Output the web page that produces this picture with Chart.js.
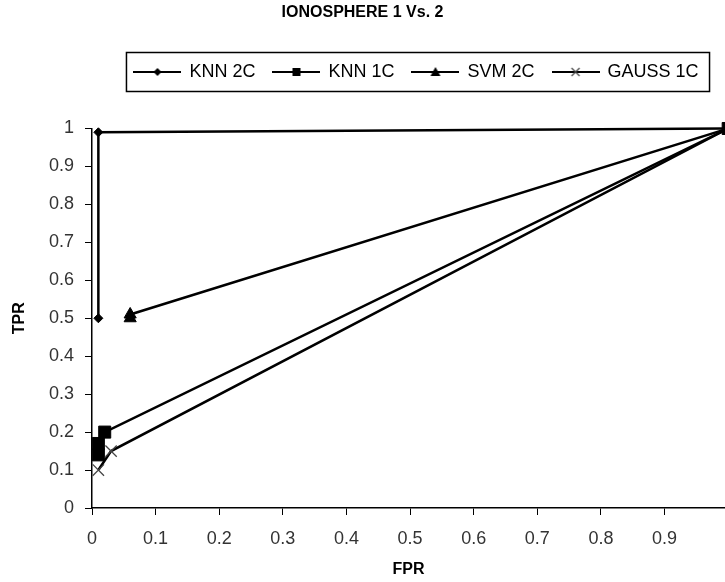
<!DOCTYPE html>
<html>
<head>
<meta charset="utf-8">
<style>
  html, body { margin: 0; padding: 0; background: #fff; overflow: hidden; }
  #wrap { width: 725px; height: 582px; }
</style>
<script src="https://cdn.jsdelivr.net/npm/chart.js@4.4.1/dist/chart.umd.min.js"></script>
</head>
<body>
<div id="wrap"><canvas id="roc"></canvas></div>
<script>
const chartTitle = 'IONOSPHERE 1 Vs. 2';
const seriesNames = ['KNN 2C', 'KNN 1C', 'SVM 2C', 'GAUSS 1C'];

// FPR / TPR pairs
const knn2cFpr = [0.01, 0.01, 1];
const knn2cTpr = [0.5, 0.99, 1];
const knn1cFpr = [0.01, 0.01, 0.02, 1];
const knn1cTpr = [0.14, 0.17, 0.2, 1];
const svm2cFpr = [0.06, 0.06, 1];
const svm2cTpr = [0.5, 0.51, 1];
const gauss1cFpr = [0.01, 0.03, 1];
const gauss1cTpr = [0.1, 0.15, 1];

const xTicks = [0, 0.1, 0.2, 0.3, 0.4, 0.5, 0.6, 0.7, 0.8, 0.9];
const yTicks = [0, 0.1, 0.2, 0.3, 0.4, 0.5, 0.6, 0.7, 0.8, 0.9, 1];

const FONT = "'Liberation Sans', Arial, sans-serif";

function pts(xs, ys) {
  return xs.map((x, i) => ({ x: x, y: ys[i] }));
}

// little line+marker picture for each legend entry
function legendIcon(kind) {
  const c = document.createElement('canvas');
  c.width = 48; c.height = 16;
  const g = c.getContext('2d');
  g.strokeStyle = '#000';
  g.fillStyle = '#000';
  g.lineWidth = 2;
  g.beginPath(); g.moveTo(0, 8); g.lineTo(48, 8); g.stroke();
  g.beginPath();
  if (kind === 'diamond') {
    g.moveTo(24, 4); g.lineTo(28, 8); g.lineTo(24, 12); g.lineTo(20, 8); g.closePath(); g.fill();
  } else if (kind === 'square') {
    g.fillRect(20, 4, 8, 8);
  } else if (kind === 'triangle') {
    g.moveTo(24, 3); g.lineTo(29, 12); g.lineTo(19, 12); g.closePath(); g.fill();
  } else {
    g.strokeStyle = '#444'; g.lineWidth = 1.2;
    g.moveTo(20, 4); g.lineTo(28, 12); g.moveTo(28, 4); g.lineTo(20, 12); g.stroke();
  }
  return c;
}
const legendIcons = [legendIcon('diamond'), legendIcon('square'), legendIcon('triangle'), legendIcon('cross')];

function series(label, data, style, radius, markColor) {
  return {
    label: label,
    data: data,
    showLine: true,
    borderColor: '#000',
    borderWidth: 2.5,
    pointStyle: style,
    pointRadius: radius,
    pointHoverRadius: radius,
    pointBackgroundColor: '#000',
    pointBorderColor: markColor,
    pointBorderWidth: style === 'crossRot' ? 1.3 : 1,
    clip: false
  };
}

// push the plot area down below the legend, nudge the legend row right
const legendGap = {
  id: 'legendGap',
  beforeLayout(chart) {
    const lg = chart.legend;
    if (lg && !lg._gapPatched) {
      const fit = lg.fit;
      lg.fit = function () { fit.call(this); this.height += 37.5; };
      lg._gapPatched = true;
    }
  },
  afterLayout(chart) {
    const lg = chart.legend;
    if (lg) { lg.left += 8; lg.right += 8; }
  }
};

// frame round the legend like the original
const legendFrame = {
  id: 'legendFrame',
  afterDraw(chart) {
    const boxes = chart.legend && chart.legend.legendHitBoxes;
    if (!boxes || !boxes.length) return;
    const a = boxes[0], b = boxes[boxes.length - 1];
    const ctx = chart.ctx;
    const left = a.left - 8, right = b.left + b.width + 11;
    ctx.save();
    ctx.strokeStyle = '#000';
    ctx.lineWidth = 1.5;
    ctx.strokeRect(left, a.top - 10.5, right - left, a.height + 21);
    ctx.restore();
  }
};

new Chart(document.getElementById('roc'), {
  type: 'scatter',
  data: {
    datasets: [
      series(seriesNames[0], pts(knn2cFpr, knn2cTpr), 'rectRot', 4.5, '#000'),
      series(seriesNames[1], pts(knn1cFpr, knn1cTpr), 'rect', 8.5, '#000'),
      series(seriesNames[2], pts(svm2cFpr, svm2cTpr), 'triangle', 7, '#000'),
      series(seriesNames[3], pts(gauss1cFpr, gauss1cTpr), 'crossRot', 8, '#444')
    ]
  },
  options: {
    responsive: true,
    maintainAspectRatio: false,
    animation: false,
    layout: { padding: 0, autoPadding: false },
    plugins: {
      title: {
        display: true,
        text: chartTitle,
        color: '#000',
        font: { family: FONT, size: 16, weight: 'bold' },
        padding: { top: 3, bottom: 22.8 }
      },
      legend: {
        display: true,
        position: 'top',
        fullSize: false,
        labels: {
          usePointStyle: true,
          pointStyleWidth: 46,
          padding: 18,
          color: '#000',
          font: { family: FONT, size: 18 },
          generateLabels(chart) {
            const items = Chart.defaults.plugins.legend.labels.generateLabels(chart);
            items.forEach((it, i) => { it.pointStyle = legendIcons[i]; });
            return items;
          }
        }
      },
      tooltip: { enabled: false }
    },
    scales: {
      x: {
        type: 'linear',
        min: 0,
        max: 0.995,
        afterBuildTicks: s => { s.ticks = xTicks.map(v => ({ value: v })); },
        afterFit: s => { s.height = 74; s.paddingRight = 0; s.paddingLeft = 0; },
        grid: { drawOnChartArea: false, drawTicks: true, tickLength: 7, tickColor: '#000' },
        border: { color: '#000', width: 1.5 },
        ticks: { color: '#333', padding: 13, font: { family: FONT, size: 18 }, callback: v => String(+v.toFixed(1)) },
        title: { display: true, text: 'FPR', color: '#000', font: { family: FONT, size: 16, weight: 'bold' }, padding: { top: 0, bottom: 2.4 } }
      },
      y: {
        type: 'linear',
        min: 0,
        max: 1,
        afterBuildTicks: s => { s.ticks = yTicks.map(v => ({ value: v })); },
        afterFit: s => { s.width = 92; },
        grid: { drawOnChartArea: false, drawTicks: true, tickLength: 7, tickColor: '#000' },
        border: { color: '#000', width: 1.5 },
        ticks: { color: '#333', padding: 11, font: { family: FONT, size: 18 }, callback: v => String(+v.toFixed(1)) },
        title: { display: true, text: 'TPR', color: '#000', font: { family: FONT, size: 16, weight: 'bold' }, padding: { top: 10.4, bottom: 0 } }
      }
    }
  },
  plugins: [legendGap, legendFrame]
});
</script>
</body>
</html>
